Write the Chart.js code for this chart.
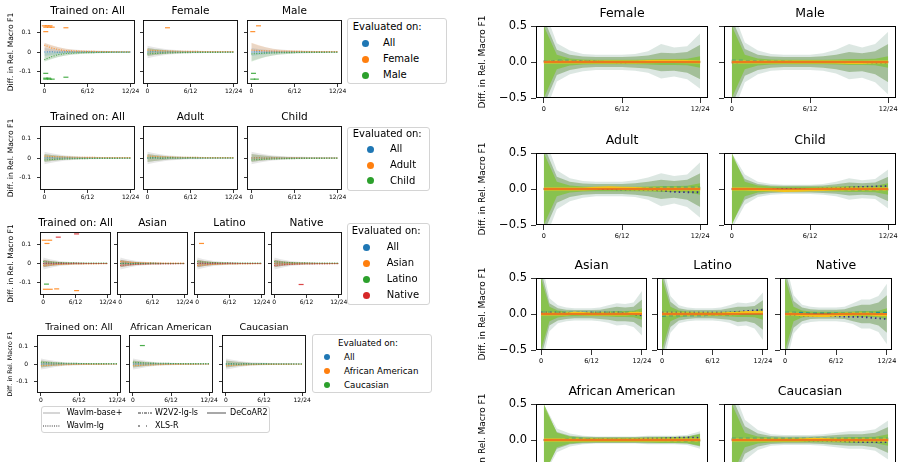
<!DOCTYPE html>
<html>
<head>
<meta charset="utf-8">
<script src="https://cdn.jsdelivr.net/npm/chart.js@4.4.1/dist/chart.umd.min.js"></script>
<style>
html,body{margin:0;padding:0;background:#fff;}
#root{position:relative;width:906px;height:462px;overflow:hidden;background:#fff;font-family:"DejaVu Sans",sans-serif;color:#000;}
#root canvas{position:absolute;}
.lgbox{position:absolute;border:1px solid #d4d4d4;border-radius:3px;background:#fff;box-sizing:border-box;}
.lgtxt{position:absolute;white-space:nowrap;line-height:1;transform:translateY(-50%);}
.lgdot{position:absolute;border-radius:50%;}
svg.lgline{position:absolute;overflow:visible;}
</style>
</head>
<body>
<div id="root"></div>
<script>
// ---------------- DATA ----------------
const layers = [0,1,2,3,4,5,6,7,8,9,10,11,12];
const xTickValues = [0,6,12];
const xTickLabels = ['0','6/12','12/24'];
const leftYTickValues = [-0.1,0,0.1];
const leftYTickLabels = ['-0.1','0','0.1'];
const rightYTickValues = [-0.5,0,0.5];
const rightYTickLabels = ['\u22120.5','0.0','0.5'];
const yAxisTitle = 'Diff. in Rel. Macro F1';

const leftTitles = [
  ['Trained on: All','Female','Male'],
  ['Trained on: All','Adult','Child'],
  ['Trained on: All','Asian','Latino','Native'],
  ['Trained on: All','African American','Caucasian']
];
const evaluatedOn = [
  ['All','Female','Male'],
  ['All','Adult','Child'],
  ['All','Asian','Latino','Native'],
  ['All','African American','Caucasian']
];
const evalColors = ['#1f77b4','#ff7f0e','#2ca02c','#d62728'];
const modelNames = ['Wavlm-base+','Wavlm-lg','W2V2-lg-ls','XLS-R','DeCoAR2'];

// left: envelope of all models and per-series bands / means (13 layers)
const envHi = [0.046,0.034,0.024,0.017,0.013,0.010,0.008,0.007,0.006,0.005,0.005,0.004,0.004];
const envLo = [-0.046,-0.035,-0.025,-0.018,-0.013,-0.010,-0.008,-0.007,-0.006,-0.005,-0.005,-0.004,-0.004];
const envNarrowHi = [0.032,0.024,0.018,0.013,0.010,0.008,0.007,0.006,0.005,0.005,0.004,0.004,0.004];
const envNarrowLo = [-0.032,-0.025,-0.018,-0.013,-0.010,-0.008,-0.007,-0.006,-0.005,-0.005,-0.004,-0.004,-0.004];
const midHi = [0.020,0.015,0.011,0.008,0.006,0.005,0.004,0.004,0.003,0.003,0.003,0.002,0.002];
const midLo = [-0.020,-0.015,-0.011,-0.008,-0.006,-0.005,-0.004,-0.004,-0.003,-0.003,-0.003,-0.002,-0.002];
const upHi = [0.048,0.036,0.025,0.017,0.012,0.009,0.007,0.006,0.005,0.004,0.004,0.003,0.003];
const upLo = [0.004,0.002,0.000,-0.001,-0.002,-0.002,-0.002,-0.002,-0.002,-0.002,-0.002,-0.002,-0.002];
const downHi = [-0.004,-0.002,0.000,0.001,0.002,0.002,0.002,0.002,0.002,0.002,0.002,0.002,0.002];
const downLo = [-0.050,-0.037,-0.026,-0.018,-0.013,-0.010,-0.008,-0.006,-0.005,-0.004,-0.004,-0.003,-0.003];
const meanFlat = [0.000,0.001,-0.001,0.001,0.000,0.000,0.001,0.000,0.000,0.000,0.000,0.000,0.000];
const meanUp = [0.036,0.021,0.012,0.007,0.005,0.004,0.003,0.003,0.002,0.002,0.001,0.001,0.001];
const meanDown = [-0.040,-0.024,-0.013,-0.008,-0.006,-0.004,-0.003,-0.003,-0.002,-0.002,-0.001,-0.001,-0.001];
const meanSlightUp = [0.010,0.008,0.006,0.005,0.004,0.004,0.003,0.003,0.002,0.002,0.002,0.002,0.002];
const meanSlightDown = [-0.010,-0.008,-0.006,-0.005,-0.004,-0.003,-0.003,-0.002,-0.002,-0.002,-0.002,-0.001,-0.001];

// which profile each left panel / series uses: [envelope, [band, mean] per evaluated group]
const leftPanelSeries = [
  [['env',[['mid','meanFlat'],['up','meanUp'],['down','meanDown']]],
   ['envNarrow',[['mid','meanFlat'],['mid','meanSlightUp'],['mid','meanSlightDown']]],
   ['env',[['mid','meanFlat'],['up','meanSlightUp'],['down','meanSlightDown']]]],
  [['envNarrow',[['mid','meanFlat'],['mid','meanSlightUp'],['mid','meanSlightDown']]],
   ['envNarrow',[['mid','meanFlat'],['mid','meanSlightUp'],['mid','meanFlat']]],
   ['envNarrow',[['mid','meanFlat'],['mid','meanFlat'],['mid','meanSlightDown']]]],
  [['envNarrow',[['mid','meanFlat'],['mid','meanSlightDown'],['mid','meanSlightUp'],['mid','meanFlat']]],
   ['envNarrow',[['mid','meanFlat'],['mid','meanSlightUp'],['mid','meanFlat'],['mid','meanSlightDown']]],
   ['envNarrow',[['mid','meanFlat'],['mid','meanSlightDown'],['mid','meanSlightUp'],['mid','meanFlat']]],
   ['envNarrow',[['mid','meanFlat'],['mid','meanFlat'],['mid','meanSlightUp'],['mid','meanSlightDown']]]],
  [['envNarrow',[['mid','meanFlat'],['mid','meanSlightDown'],['mid','meanSlightUp']]],
   ['envNarrow',[['mid','meanFlat'],['mid','meanSlightDown'],['mid','meanSlightUp']]],
   ['envNarrow',[['mid','meanFlat'],['mid','meanSlightDown'],['mid','meanFlat']]]]
];

// stray marks in left panels: [x, y, seriesIndex]
const leftOutliers = [
  [[[0,0.135,1],[0.4,0.135,1],[0.8,0.135,1],[0.2,0.128,1],[0.7,0.128,1],[1.1,0.128,1],[3,0.125,1],[0.2,0.105,1],
    [0.2,-0.11,2],[0.2,-0.135,2],[0.6,-0.135,2],[0.2,-0.14,2],[0.7,-0.14,2],[1.1,-0.14,2],[3,-0.13,2]],
   [[2.8,0.125,1]],
   [[0.2,0.105,1],[1.0,0.135,1],[0.3,-0.11,2],[0.2,-0.14,2],[0.7,-0.14,2]]],
  [[],[],[]],
  [[[0.2,0.122,1],[1.2,0.122,1],[0.7,0.105,1],[2.8,0.138,3],[6.2,0.155,3],[0.6,-0.108,2],
    [0.4,-0.135,1],[1.3,-0.135,1],[2.5,-0.133,1],[6.2,-0.142,1]],
   [],[[0.8,0.105,1]],[[5,-0.11,3]]],
  [[],[[1.5,0.105,2]],[]]
];

// right panels
const rightTitles = ['Female','Male','Adult','Child','Asian','Latino','Native','African American','Caucasian'];
const rightOuterHi = [
  [0.75,0.26,0.16,0.11,0.10,0.10,0.10,0.11,0.15,0.25,0.20,0.22,0.40],
  [0.75,0.27,0.16,0.11,0.10,0.10,0.10,0.12,0.17,0.25,0.20,0.25,0.42],
  [0.75,0.26,0.15,0.11,0.10,0.10,0.10,0.12,0.16,0.22,0.18,0.20,0.37],
  [0.50,0.20,0.10,0.07,0.06,0.06,0.06,0.07,0.10,0.15,0.12,0.14,0.27],
  [0.75,0.22,0.12,0.09,0.08,0.08,0.08,0.09,0.12,0.15,0.14,0.16,0.32],
  [0.75,0.25,0.12,0.09,0.08,0.08,0.08,0.09,0.12,0.16,0.15,0.17,0.30],
  [0.75,0.26,0.13,0.10,0.09,0.09,0.09,0.10,0.15,0.20,0.20,0.25,0.42],
  [0.50,0.16,0.09,0.06,0.05,0.05,0.05,0.05,0.06,0.06,0.06,0.07,0.12],
  [0.75,0.28,0.14,0.08,0.07,0.07,0.07,0.08,0.10,0.12,0.12,0.15,0.27]
];
const rightOuterLo = [
  [-0.75,-0.27,-0.17,-0.13,-0.11,-0.11,-0.11,-0.12,-0.15,-0.23,-0.20,-0.24,-0.37],
  [-0.75,-0.28,-0.17,-0.12,-0.11,-0.11,-0.11,-0.12,-0.16,-0.24,-0.22,-0.28,-0.45],
  [-0.75,-0.28,-0.17,-0.12,-0.10,-0.10,-0.10,-0.11,-0.15,-0.24,-0.20,-0.25,-0.40],
  [-0.55,-0.22,-0.11,-0.08,-0.07,-0.07,-0.07,-0.08,-0.10,-0.15,-0.13,-0.14,-0.27],
  [-0.75,-0.24,-0.13,-0.10,-0.09,-0.09,-0.09,-0.10,-0.12,-0.16,-0.15,-0.18,-0.30],
  [-0.75,-0.26,-0.13,-0.10,-0.09,-0.09,-0.09,-0.10,-0.12,-0.17,-0.16,-0.20,-0.36],
  [-0.75,-0.27,-0.14,-0.11,-0.10,-0.10,-0.10,-0.11,-0.14,-0.20,-0.20,-0.25,-0.42],
  [-0.50,-0.17,-0.09,-0.06,-0.05,-0.05,-0.05,-0.05,-0.06,-0.06,-0.06,-0.07,-0.12],
  [-0.75,-0.28,-0.14,-0.08,-0.07,-0.07,-0.07,-0.08,-0.10,-0.12,-0.12,-0.15,-0.27]
];
const rightMidHi = [
  [0.60,0.17,0.10,0.075,0.07,0.07,0.07,0.075,0.09,0.13,0.12,0.14,0.24],
  [0.60,0.18,0.10,0.075,0.07,0.07,0.07,0.08,0.10,0.14,0.12,0.15,0.25],
  [0.60,0.17,0.10,0.075,0.07,0.07,0.07,0.08,0.10,0.13,0.11,0.13,0.22],
  [0.45,0.14,0.07,0.05,0.045,0.045,0.045,0.05,0.065,0.09,0.08,0.09,0.17],
  [0.60,0.15,0.08,0.06,0.055,0.055,0.055,0.06,0.08,0.10,0.09,0.10,0.20],
  [0.60,0.17,0.08,0.06,0.055,0.055,0.055,0.06,0.08,0.10,0.10,0.11,0.19],
  [0.60,0.18,0.09,0.065,0.06,0.06,0.06,0.065,0.10,0.13,0.13,0.16,0.26],
  [0.45,0.11,0.06,0.045,0.04,0.04,0.04,0.04,0.045,0.045,0.045,0.05,0.09],
  [0.60,0.19,0.09,0.055,0.05,0.05,0.05,0.055,0.07,0.08,0.08,0.10,0.18]
];
const rightMidLo = [
  [-0.60,-0.18,-0.11,-0.08,-0.07,-0.07,-0.07,-0.08,-0.09,-0.13,-0.12,-0.15,-0.24],
  [-0.60,-0.19,-0.11,-0.08,-0.07,-0.07,-0.07,-0.08,-0.10,-0.14,-0.13,-0.17,-0.28],
  [-0.60,-0.19,-0.11,-0.08,-0.07,-0.07,-0.07,-0.08,-0.10,-0.14,-0.12,-0.15,-0.25],
  [-0.48,-0.15,-0.075,-0.055,-0.05,-0.05,-0.05,-0.055,-0.065,-0.09,-0.08,-0.09,-0.17],
  [-0.60,-0.16,-0.09,-0.07,-0.06,-0.06,-0.06,-0.07,-0.08,-0.10,-0.10,-0.11,-0.19],
  [-0.60,-0.18,-0.09,-0.07,-0.06,-0.06,-0.06,-0.07,-0.08,-0.11,-0.10,-0.13,-0.22],
  [-0.60,-0.19,-0.10,-0.07,-0.065,-0.065,-0.065,-0.07,-0.10,-0.13,-0.13,-0.16,-0.26],
  [-0.45,-0.12,-0.06,-0.045,-0.04,-0.04,-0.04,-0.04,-0.045,-0.045,-0.045,-0.05,-0.09],
  [-0.60,-0.19,-0.09,-0.055,-0.05,-0.05,-0.05,-0.055,-0.07,-0.08,-0.08,-0.10,-0.18]
];
const rightInnerHi = [0.50,0.10,0.05,0.035,0.03,0.03,0.03,0.03,0.035,0.04,0.04,0.045,0.08];
const rightInnerLo = [-0.50,-0.10,-0.05,-0.035,-0.03,-0.03,-0.03,-0.03,-0.035,-0.04,-0.04,-0.045,-0.08];
const rightDotted = [
  [0.01,0.01,0.005,0.01,0.005,0,-0.005,0,0,0.005,0.01,0.005,0],
  [-0.01,0,0.005,0,0,0,0,0,0,-0.005,-0.01,-0.01,-0.01],
  [0,0,0,0,0,0,-0.005,-0.005,-0.01,-0.02,-0.04,-0.045,-0.045],
  [0,0,0,0,0,0,0,0.005,0.01,0.02,0.03,0.035,0.04],
  [0.02,0.02,0.02,0.015,0.015,0.02,0.02,0.02,0.02,0.02,0.015,0,-0.02],
  [0.02,0.02,0.02,0.02,0.02,0.02,0.02,0.02,0.02,0.03,0.04,0.05,0.06],
  [0,-0.01,-0.02,-0.025,-0.03,-0.03,-0.03,-0.035,-0.04,-0.04,-0.05,-0.06,-0.07],
  [0,0,0,0.005,0.01,0.01,0.005,0.01,0.02,0.02,0.03,0.035,0.03],
  [0,0,0,0,0,0,-0.005,-0.005,-0.01,-0.02,-0.03,-0.03,-0.03]
];
const rightDashed = [
  [0.015,0.02,0.02,0.015,0.01,0.005,0.005,0.005,0.01,0.01,0.01,0.005,0],
  [0.02,0.02,0.015,0.01,0.01,0.005,0.005,0,0,0,0,0,0],
  [0,0,0.005,0.005,0.005,0.01,0.01,0.01,0.015,0.02,0.02,0.02,0.02],
  [0,0,-0.005,-0.01,-0.01,-0.005,0,0,-0.005,-0.01,-0.015,-0.01,-0.01],
  [0.02,0.02,0.02,0.02,0.02,0.02,0.02,0.02,0.02,0.02,0.02,0.02,0.02],
  [-0.03,-0.02,-0.02,-0.02,-0.02,-0.02,-0.01,-0.01,-0.01,0,0.01,0.02,0.02],
  [0.02,0.02,0.02,0.01,0.01,0.01,0.01,0.01,0.02,0.02,0.02,0.02,0.02],
  [0,0,0.02,0.02,0.01,0.01,0.01,0.01,0,-0.005,-0.01,-0.015,-0.01],
  [0.02,0.02,0.02,0.02,0.02,0.02,0.02,0.02,0.02,0.02,0.02,0.02,0.02]
];
const rightYellow = [
  [0,0,0,0,0,0,0,0,0.005,0.01,0.01,0.005,0],
  [0,0,0,0,0,0,0,0,0,-0.005,-0.005,0,0],
  [0,0,0,0,0.01,0.015,0.01,0.005,0,0,0,0,0],
  [0,0,-0.005,-0.01,-0.02,-0.015,-0.01,-0.005,0,0,0,0,0],
  [0,0,0,0,0.01,0.005,0,0,0,0,0,0.01,0.01],
  [0,0,0,0,0,0,0,0,0.005,0.01,0.02,0.02,0.02],
  [0,0,-0.01,-0.015,-0.02,-0.02,-0.01,-0.005,0,0,0,-0.01,-0.01],
  [0,0,0,0,0,0,0,0,0,0,0,0,0],
  [0,0,0,0,0,0,0.005,0.005,0,0,0,0,0]
];
const rightZero = [0,0,0,0,0,0,0,0,0,0,0,0,0];

// ---------------- RENDERING ----------------
const FONT = 'DejaVu Sans';
Chart.defaults.font.family = FONT;
Chart.defaults.color = '#000';
const root = document.getElementById('root');
const profiles = {env:[envHi,envLo], envNarrow:[envNarrowHi,envNarrowLo], mid:[midHi,midLo], up:[upHi,upLo], down:[downHi,downLo],
  meanFlat, meanUp, meanDown, meanSlightUp, meanSlightDown};

function pts(arr){ return layers.map((x,i)=>({x:x, y:arr[i]})); }
function rgba(hex,a){ const n=parseInt(hex.slice(1),16); return `rgba(${n>>16},${(n>>8)&255},${n&255},${a})`; }
function band(hi,lo,color){
  return [{data:pts(hi),borderWidth:0,pointRadius:0,fill:'+1',backgroundColor:color,borderColor:'transparent'},
          {data:pts(lo),borderWidth:0,pointRadius:0,fill:false,borderColor:'transparent'}];
}
function line(arr,color,width,dash){
  return {data:pts(arr),borderColor:color,borderWidth:width,borderDash:dash||[],pointRadius:0,fill:false,tension:0};
}

const framePlugin = {id:'frame', afterDatasetsDraw(chart,args,opts){
  const a=chart.chartArea, ctx=chart.ctx; ctx.save(); ctx.strokeStyle='#000'; ctx.lineWidth=opts.lineWidth||1;
  ctx.strokeRect(a.left+0.5,a.top+0.5,a.right-a.left-1,a.bottom-a.top-1); ctx.restore(); }};

function addPanel(o){
  const pt=1;
  const titleH=Math.round(pt+1.2*o.titleSize+(o.titleGap-0.6*o.titleSize));
  const pb=titleH-pt-1.2*o.titleSize;
  const l=Math.round(o.l), r=Math.round(o.r), t=Math.round(o.t), b=Math.round(o.b);
  const cl=Math.round(o.canvasLeft!==undefined?o.canvasLeft:l-o.yW);
  const yW=l-cl;
  const W=yW+(r-l)+yW, H=titleH+(b-t)+o.xH;
  // later datasets are drawn on top
  o.datasets.forEach((d,i)=>{ d.order=o.datasets.length-i; });
  const c=document.createElement('canvas');
  c.width=W; c.height=H; c.style.left=cl+'px'; c.style.top=(t-titleH)+'px';
  c.style.width=W+'px'; c.style.height=H+'px';
  root.appendChild(c);
  new Chart(c,{type:'line',data:{datasets:o.datasets},plugins:[framePlugin],
    options:{responsive:false,animation:false,devicePixelRatio:1,events:[],
      layout:{padding:0},
      plugins:{legend:{display:false},tooltip:{enabled:false},frame:{lineWidth:o.frameW},
        title:{display:true,text:o.title,color:'#000',font:{family:FONT,size:o.titleSize,weight:'normal'},padding:{top:pt,bottom:pb}}},
      scales:{
        x:{type:'linear',min:-0.6,max:12.6,border:{display:false},
          grid:{display:true,drawOnChartArea:false,drawTicks:true,tickLength:o.tl,color:'#000',lineWidth:0.8},
          afterBuildTicks:s=>{s.ticks=xTickValues.map(v=>({value:v}));},
          ticks:{autoSkip:false,maxRotation:0,minRotation:0,padding:o.xPad,color:'#000',font:{family:FONT,size:o.xTickSize},
            callback:(v)=>xTickLabels[xTickValues.indexOf(v)]},
          afterFit:s=>{s.height=o.xH; s.paddingLeft=0; s.paddingRight=0;}},
        y:{type:'linear',position:'left',min:o.yMin,max:o.yMax,border:{display:false},
          grid:{display:true,drawOnChartArea:false,drawTicks:true,tickLength:o.tl,color:'#000',lineWidth:0.8},
          afterBuildTicks:s=>{s.ticks=o.yTicks.map(v=>({value:v}));},
          ticks:{display:o.showY,autoSkip:false,padding:o.yPad,color:'#000',font:{family:FONT,size:o.yTickSize},
            callback:(v)=>o.yLabels[o.yTicks.indexOf(v)]},
          title:{display:!!o.yTitle,text:yAxisTitle,color:'#000',font:{family:FONT,size:o.yTitleSize},padding:{top:o.yTitlePad||0,bottom:0}},
          afterFit:s=>{s.width=yW; s.paddingTop=0; s.paddingBottom=0;}},
        y2:{type:'linear',position:'right',display:true,border:{display:false},grid:{display:false},ticks:{display:false},
          afterFit:s=>{s.width=yW; s.paddingTop=0; s.paddingBottom=0;}}
      }}});
}

// ---- left groups ----
const leftGeom = [
  {t:20,b:84,xs:[[40,135],[143,238],[247,342]],titleSize:10.5,titleGap:9,yTitleX:11,yTitleSize:7.6},
  {t:126,b:190,xs:[[40,135],[143,238],[247,342]],titleSize:10.5,titleGap:8.7,yTitleX:11,yTitleSize:7.6},
  {t:232,b:295,xs:[[40,111],[117,188],[194,265],[271,342]],titleSize:10.5,titleGap:8.7,yTitleX:11.5,yTitleSize:7.6},
  {t:335,b:393,xs:[[37,121],[129,213],[222,306]],titleSize:9.5,titleGap:7.7,yTitleX:10,yTitleSize:6.3}
];
leftGeom.forEach((g,gi)=>{
  g.xs.forEach((xr,pi)=>{
    const spec=leftPanelSeries[gi][pi];
    const ds=[];
    const env=profiles[spec[0]];
    ds.push(...band(env[0],env[1],'rgba(120,120,120,0.18)'));
    spec[1].forEach((s,si)=>{ const bd=profiles[s[0]]; ds.push(...band(bd[0],bd[1],rgba(evalColors[si],0.16))); });
    spec[1].forEach((s,si)=>{ ds.push(line(profiles[s[1]],rgba(evalColors[si],0.85),1.1,[1,1.5])); });
    leftOutliers[gi][pi].forEach(p=>{
      ds.push({data:[{x:p[0],y:p[1]}],showLine:false,pointStyle:'line',pointRadius:2.5,pointBorderWidth:1.2,
        pointBorderColor:rgba(evalColors[p[2]],0.85),borderColor:evalColors[p[2]]});
    });
    const first=pi===0;
    const canvasLeft=first?2:undefined;
    const o={l:xr[0],r:xr[1],t:g.t,b:g.b,yW:8,canvasLeft:canvasLeft,xH:12,tl:3,xPad:1,yPad:6,
      title:leftTitles[gi][pi],titleSize:g.titleSize,titleGap:g.titleGap,
      yMin:-0.165,yMax:0.165,yTicks:leftYTickValues,yLabels:leftYTickLabels,showY:first,
      xTickSize:6,yTickSize:6,frameW:0.9,datasets:ds,
      yTitle:first,yTitleSize:g.yTitleSize,yTitlePad:g.yTitleX-2-0.6*g.yTitleSize};
    addPanel(o);
  });
});

// ---- right rows ----
const rightGeom = [
  {t:26,b:98,xs:[[536,708],[724,896]],idx:[0,1]},
  {t:153,b:225,xs:[[536,708],[724,896]],idx:[2,3]},
  {t:278,b:350,xs:[[536,647],[657,768],[780,892]],idx:[4,5,6]},
  {t:404,b:476,xs:[[536,708],[724,896]],idx:[7,8]}
];
rightGeom.forEach(g=>{
  g.xs.forEach((xr,pi)=>{
    const k=g.idx[pi];
    const ds=[];
    ds.push(...band(rightOuterHi[k],rightOuterLo[k],'rgba(145,180,165,0.32)'));
    ds.push(...band(rightMidHi[k],rightMidLo[k],'rgba(95,145,65,0.45)'));
    ds.push(...band(rightInnerHi,rightInnerLo,'rgba(130,195,60,0.80)'));
    ds.push(line(rightDashed[k],'#21918c',1.4,[4,3]));
    ds.push(line(rightDotted[k],'#3b2f86',1.8,[1.5,3]));
    ds.push(line(rightYellow[k],'#f4c21a',3.2));
    ds.push(line(rightZero,'#e2321f',1.1));
    const first=pi===0;
    addPanel({l:xr[0],r:xr[1],t:g.t,b:g.b,yW:8,canvasLeft:first?476:undefined,xH:16,tl:5,xPad:2,yPad:4,
      title:rightTitles[k],titleSize:12.5,titleGap:12,
      yMin:-0.5,yMax:0.5,yTicks:rightYTickValues,yLabels:rightYTickLabels,showY:first,
      xTickSize:6.5,yTickSize:11.5,frameW:1,datasets:ds,
      yTitle:first,yTitleSize:9,yTitlePad:483-476-5.4});
  });
});

// ---- legends (HTML) ----
function el(cls,style,text){ const d=document.createElement('div'); d.className=cls; Object.assign(d.style,style); if(text!==undefined) d.textContent=text; root.appendChild(d); return d; }
const leftLegendGeom = [
  {box:[347,18,100,66],titleX:352.7,titleY:26.7,size:10,dotX:365,textX:383,ys:[43.3,59.3,75],r:3.5},
  {box:[347,127,83,64],titleX:352.7,titleY:134,size:10,dotX:370.7,textX:390,ys:[149.3,165,180.7],r:3.5},
  {box:[347,223,83,82],titleX:351.7,titleY:230.7,size:10,dotX:366.7,textX:386.7,ys:[247.3,263.3,279.3,295],r:3.5},
  {box:[312,334,120,59],titleX:338,titleY:343.3,size:8.7,dotX:326.7,textX:344,ys:[356.7,371,385.3],r:3.2}
];
leftLegendGeom.forEach((lg,gi)=>{
  el('lgbox',{left:lg.box[0]+'px',top:lg.box[1]+'px',width:lg.box[2]+'px',height:lg.box[3]+'px'});
  el('lgtxt',{left:lg.titleX+'px',top:lg.titleY+'px',fontSize:lg.size+'px'},'Evaluated on:');
  evaluatedOn[gi].forEach((name,si)=>{
    el('lgdot',{left:(lg.dotX-lg.r)+'px',top:(lg.ys[si]-lg.r)+'px',width:(2*lg.r)+'px',height:(2*lg.r)+'px',background:evalColors[si]});
    el('lgtxt',{left:lg.textX+'px',top:lg.ys[si]+'px',fontSize:lg.size+'px'},name);
  });
});
// line-style legend
el('lgbox',{left:'41px',top:'406px',width:'229px',height:'27px'});
const styleLegend = [
  {x1:43,x2:60,y:413.3,tx:66.7,color:'#c9c9c9',w:1.5,dash:''},
  {x1:43,x2:60,y:426,tx:66.7,color:'#333',w:1,dash:'1,1.2'},
  {x1:138,x2:152,y:413.3,tx:155,color:'#333',w:1,dash:'3,1,1,1'},
  {x1:138,x2:152,y:426,tx:155,color:'#333',w:1,dash:'2,6,1,6'},
  {x1:207,x2:226,y:413.3,tx:230,color:'#a8a8a8',w:2,dash:''}
];
styleLegend.forEach((s,i)=>{
  const svg=document.createElementNS('http://www.w3.org/2000/svg','svg');
  svg.setAttribute('class','lgline'); svg.setAttribute('width',s.x2-s.x1); svg.setAttribute('height',4);
  svg.style.left=s.x1+'px'; svg.style.top=(s.y-2)+'px';
  const ln=document.createElementNS('http://www.w3.org/2000/svg','line');
  ln.setAttribute('x1',0); ln.setAttribute('x2',s.x2-s.x1); ln.setAttribute('y1',2); ln.setAttribute('y2',2);
  ln.setAttribute('stroke',s.color); ln.setAttribute('stroke-width',s.w); if(s.dash) ln.setAttribute('stroke-dasharray',s.dash);
  svg.appendChild(ln); root.appendChild(svg);
  el('lgtxt',{left:s.tx+'px',top:s.y+'px',fontSize:'8px'},modelNames[i]);
});
</script>
</body>
</html>
